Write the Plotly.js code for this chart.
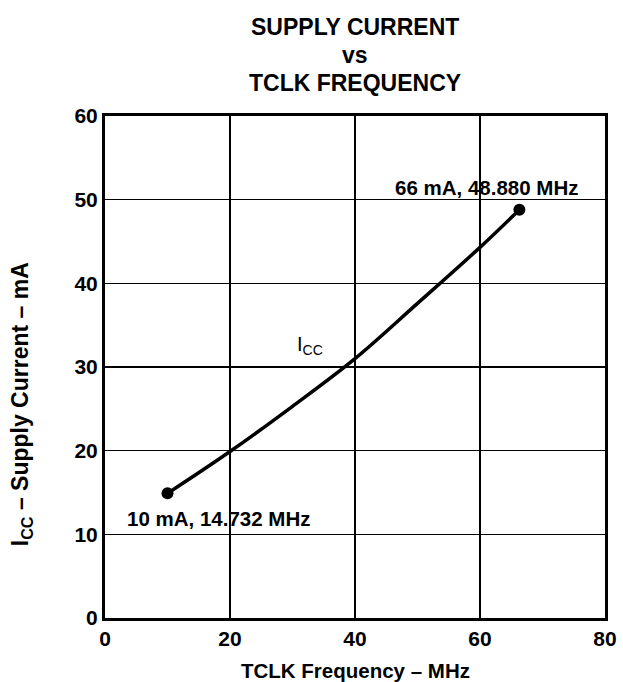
<!DOCTYPE html>
<html>
<head>
<meta charset="utf-8">
<script src="https://cdn.plot.ly/plotly-3.0.1.min.js"></script>
<style>html,body{margin:0;padding:0;background:#fff;}</style>
</head>
<body>
<div id="chart" style="width:623px;height:682px;"></div>
<script>
// Curve samples (TCLK frequency in MHz, supply current in mA)
var freqMHz = [10, 20, 30, 40, 50, 60, 66.3];
var iccMA   = [14.9, 19.9, 25.3, 31.0, 37.6, 44.3, 48.8];
var endFreq = [10, 66.3];
var endIcc  = [14.9, 48.8];
var endLabels = ["10 mA, 14.732 MHz", "66 mA, 48.880 MHz"];
var labelX = [18.1, 61];
var labelY = [11.9, 51.5];
var xTicks = [0, 20, 40, 60, 80];
var yTicks = [0, 10, 20, 30, 40, 50, 60];
var titleLines = ["SUPPLY CURRENT", "vs", "TCLK FREQUENCY"];
var titleLineY = [1.177, 1.1215, 1.066];

var FONT = "Liberation Sans, Arial, sans-serif";

var traces = [
  {x: freqMHz, y: iccMA, mode: "lines", line: {color: "#000", width: 3.5, shape: "spline", smoothing: 1}, hoverinfo: "skip"},
  {x: endFreq, y: endIcc, mode: "markers", marker: {color: "#000", size: 12}, hoverinfo: "skip"}
];

var annotations = endLabels.map(function (t, i) {
  return {x: labelX[i], y: labelY[i], text: "<b>" + t + "</b>", showarrow: false,
          font: {family: FONT, size: 20.5, color: "#000"}, xanchor: "center", yanchor: "middle"};
});
annotations.push({x: 32.8, y: 32.6, text: "I<sub>CC</sub>", showarrow: false,
  font: {family: FONT, size: 20, color: "#000"}, xanchor: "center", yanchor: "middle"});
titleLines.forEach(function (t, i) {
  annotations.push({xref: "paper", yref: "paper", x: 0.5, y: titleLineY[i], text: "<b>" + t + "</b>",
    showarrow: false, font: {family: FONT, size: 23, color: "#000"}, xanchor: "center", yanchor: "middle"});
});
annotations.push({xref: "paper", yref: "paper", x: 0.5, y: -0.1036, text: "<b>TCLK Frequency – MHz</b>",
  showarrow: false, font: {family: FONT, size: 20.5, color: "#000"}, xanchor: "center", yanchor: "middle"});
annotations.push({xref: "paper", yref: "paper", x: -0.168, y: 0.426, text: "<b>I<sub>CC</sub> – Supply Current – mA</b>",
  textangle: -90, showarrow: false, font: {family: FONT, size: 23, color: "#000"}, xanchor: "center", yanchor: "middle"});

var layout = {
  width: 623, height: 682,
  margin: {l: 105, r: 18, t: 116, b: 64},
  paper_bgcolor: "#fff", plot_bgcolor: "#fff",
  showlegend: false,
  xaxis: {range: [0, 80], tickvals: xTicks, ticktext: xTicks.map(function(v){return "<b>"+v+"</b>";}),
          showgrid: true, gridcolor: "#000", gridwidth: 1.2, zeroline: false,
          showline: true, linecolor: "#000", linewidth: 3, mirror: true, ticks: "",
          tickfont: {family: FONT, size: 21, color: "#000"}, fixedrange: true},
  yaxis: {range: [0, 60], tickvals: yTicks, ticktext: yTicks.map(function(v){return "<b>"+v+"</b>";}),
          showgrid: true, gridcolor: "#000", gridwidth: 1.2, zeroline: false,
          showline: true, linecolor: "#000", linewidth: 3, mirror: true, ticks: "",
          tickfont: {family: FONT, size: 21, color: "#000"}, fixedrange: true},
  annotations: annotations
};

Plotly.newPlot("chart", traces, layout, {displayModeBar: false, staticPlot: true});
</script>
</body>
</html>
